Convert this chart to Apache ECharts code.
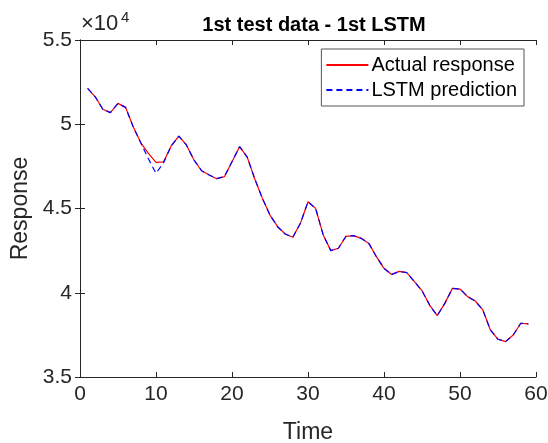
<!DOCTYPE html>
<html>
<head>
<meta charset="utf-8">
<script src="https://cdn.jsdelivr.net/npm/echarts@6/dist/echarts.min.js"></script>
<style>
  html, body { margin: 0; padding: 0; background: #fff; }
  #chart { width: 548px; height: 443px; }
</style>
</head>
<body>
<div id="chart"></div>
<script>
// Time steps of the first test set
const timeSteps = [1,2,3,4,5,6,7,8,9,10,11,12,13,14,15,16,17,18,19,20,
  21,22,23,24,25,26,27,28,29,30,31,32,33,34,35,36,37,38,39,40,
  41,42,43,44,45,46,47,48,49,50,51,52,53,54,55,56,57,58,59];

// Measured response
const actualResponse = [52130,51630,50890,50690,51240,51000,49850,48900,48270,47740,
  47770,48710,49300,48770,47880,47240,46990,46770,46890,47780,
  48670,48050,46750,45600,44610,43920,43490,43290,44120,45400,
  45010,43430,42500,42640,43350,43390,43230,42930,42140,41450,
  41080,41270,41190,40660,40120,39270,38640,39370,40260,40220,
  39770,39510,38980,37790,37240,37100,37490,38190,38150];

// Output of the first LSTM network
const lstmPrediction = [52130,51630,50890,50690,51240,51000,49850,48900,47950,47090,
  47720,48710,49300,48770,47880,47240,46990,46770,46890,47780,
  48670,48050,46750,45600,44610,43920,43490,43290,44120,45400,
  45010,43430,42500,42640,43350,43390,43230,42930,42140,41450,
  41080,41270,41190,40660,40120,39270,38640,39370,40260,40220,
  39770,39510,38980,37790,37240,37100,37490,38190,38150];

const xTicks = [0, 10, 20, 30, 40, 50, 60];
const yTicks = [35000, 40000, 45000, 50000, 55000];

const FONT = 'Liberation Sans, Arial, Helvetica, sans-serif';
const INK = '#262626';

const pairs = (ys) => timeSteps.map((t, i) => [t, ys[i]]);

const chart = echarts.init(document.getElementById('chart'), null, { renderer: 'canvas' });

const boxAxisLine = { show: true, lineStyle: { color: INK, width: 1 } };
const innerTicks = { show: true, inside: true, length: 5, lineStyle: { color: INK, width: 1 } };

chart.setOption({
  animation: false,
  backgroundColor: '#ffffff',
  title: {
    text: '1st test data - 1st LSTM',
    left: 309, top: 10, textAlign: 'center',
    textStyle: { fontFamily: FONT, fontSize: 20, fontWeight: 'bold', color: '#000' }
  },
  grid: { left: 80, right: 12, top: 40, bottom: 66, containLabel: false, outerBoundsMode: 'none' },
  legend: {
    orient: 'vertical',
    right: 24, top: 49,
    backgroundColor: '#fff',
    borderColor: '#555',
    borderWidth: 1,
    borderRadius: 0,
    padding: [6, 7, 6, 4],
    itemGap: 5,
    itemWidth: 42,
    itemHeight: 12,
    itemStyle: { opacity: 0 },
    textStyle: { fontFamily: FONT, fontSize: 20, color: '#000', padding: [0, 0, 0, -2] },
    data: ['Actual response', 'LSTM prediction']
  },
  xAxis: [{
    type: 'value', min: xTicks[0], max: xTicks[xTicks.length - 1], interval: 10,
    name: 'Time', nameLocation: 'middle', nameGap: 44,
    nameTextStyle: { fontFamily: FONT, fontSize: 23, color: INK },
    axisLine: boxAxisLine, axisTick: innerTicks,
    axisLabel: { fontFamily: FONT, fontSize: 21, color: INK, margin: 7 },
    splitLine: { show: false }
  }, {
    type: 'value', position: 'top', min: xTicks[0], max: xTicks[xTicks.length - 1], interval: 10,
    axisLine: boxAxisLine, axisTick: innerTicks,
    axisLabel: { show: false }, splitLine: { show: false }
  }],
  yAxis: [{
    type: 'value', min: yTicks[0], max: yTicks[yTicks.length - 1], interval: 5000,
    name: 'Response', nameLocation: 'middle', nameGap: 41,
    nameTextStyle: { fontFamily: FONT, fontSize: 23, color: INK },
    axisLine: boxAxisLine, axisTick: innerTicks,
    axisLabel: {
      fontFamily: FONT, fontSize: 21, color: INK, margin: 8,
      formatter: (v) => String(v / 10000)
    },
    splitLine: { show: false }
  }, {
    type: 'value', position: 'right', min: yTicks[0], max: yTicks[yTicks.length - 1], interval: 5000,
    axisLine: boxAxisLine, axisTick: innerTicks,
    axisLabel: { show: false }, splitLine: { show: false }
  }],
  graphic: [{
    type: 'text', left: 81, top: 13,
    style: { text: '×10', font: '22px ' + FONT, fill: INK }
  }, {
    type: 'text', left: 121, top: 10,
    style: { text: '4', font: '15px ' + FONT, fill: INK }
  }],
  series: [{
    name: 'Actual response',
    type: 'line',
    data: pairs(actualResponse),
    symbol: 'none',
    color: '#ff0000',
    lineStyle: { color: '#ff0000', width: 1.2 },
    z: 2
  }, {
    name: 'LSTM prediction',
    type: 'line',
    data: pairs(lstmPrediction),
    symbol: 'none',
    color: '#0000ff',
    lineStyle: { color: '#0000ff', width: 1.2, type: [6, 4] },
    z: 3
  }]
});
</script>
</body>
</html>
